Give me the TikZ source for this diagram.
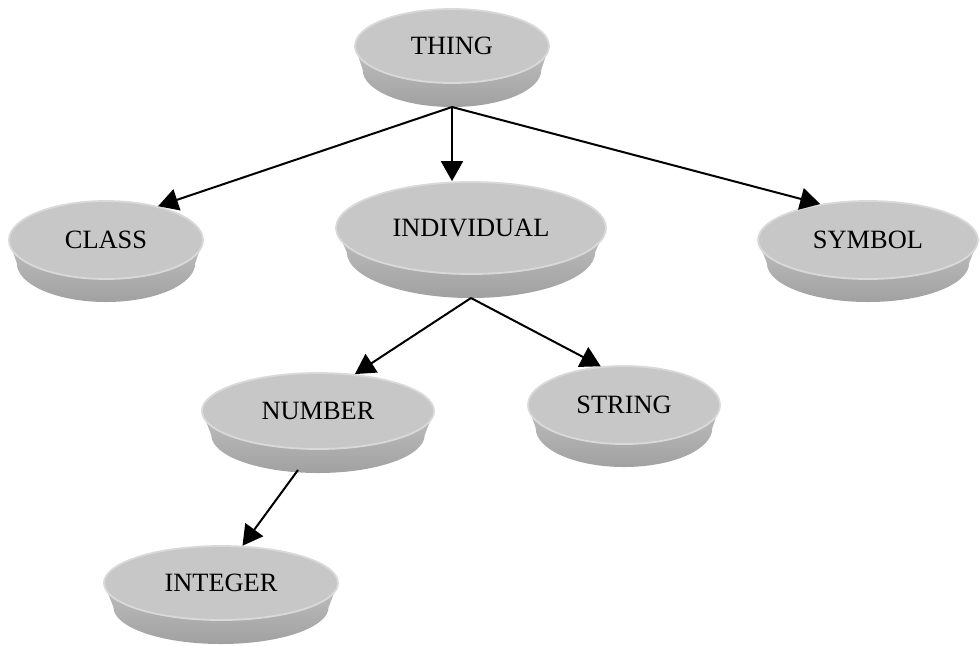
\documentclass[tikz,border=0pt]{standalone}
\usepackage{fontspec}
\setmainfont{Liberation Serif}
\usepackage{tikz}
\usetikzlibrary {arrows.meta}
\usetikzlibrary {shapes.geometric}

\tikzset{
  disc top/.style={ellipse,fill=black!22,draw=black!15,line width=0.9pt,inner sep=0pt,
    font=\fontsize{13.2}{15}\selectfont},
  disc side/.style={top color=black!25,bottom color=black!37},
  isa/.style={-{Triangle[length=10pt,width=11pt]},line width=1pt},
}

% disc: name, x, y, rx, ry, depth, text (pixel units, 1px = 0.5pt)
\newcommand{\disc}[7]{%
  \pgfmathsetmacro{\drx}{#4/2}%
  \pgfmathsetmacro{\dry}{#5/2}%
  \pgfmathsetmacro{\dbx}{0.92*#4/2}%
  \path[disc side] (#2-#4,-#3) -- (#2-0.92*#4,-#3-#6)
    arc[start angle=180,end angle=360,x radius=\dbx pt,y radius=\dry pt]
    -- (#2+#4,-#3)
    arc[start angle=0,end angle=-180,x radius=\drx pt,y radius=\dry pt] -- cycle;
  \node[disc top,minimum width=#4 pt,minimum height=#5 pt] (#1) at (#2,-#3) {#7};
  \coordinate (#1-foot) at (#2,-#3-#6-#5);
}

\begin{document}
\begin{tikzpicture}[x=0.5pt,y=0.5pt]
        \useasboundingbox (0,0) rectangle (980,-645);

        \disc{thing}{452}{46}{97}{37}{24}{THING}%根
        \disc{class}{106}{240}{97}{39}{23}{CLASS}
        \disc{individual}{471}{228}{135}{46}{24}{INDIVIDUAL}
        \disc{symbol}{868}{240}{110}{39}{23}{SYMBOL}
        \disc{number}{318}{411}{116}{38}{24}{NUMBER}
        \disc{string}{624}{405}{96}{39}{23}{STRING}
        \disc{integer}{221}{583}{117}{37}{24}{INTEGER}

        \draw[isa](thing-foot)--(class.33);
        \draw[isa](thing-foot)--(thing-foot |- individual.north);
        \draw[isa](thing-foot)--(symbol.143);
        \draw[isa](individual-foot)--(number.45);
        \draw[isa](individual-foot)--(string.121);
        \draw[isa]([xshift=-10pt,yshift=1.5pt]number-foot)--(integer.60);
      \end{tikzpicture}
\end{document}
